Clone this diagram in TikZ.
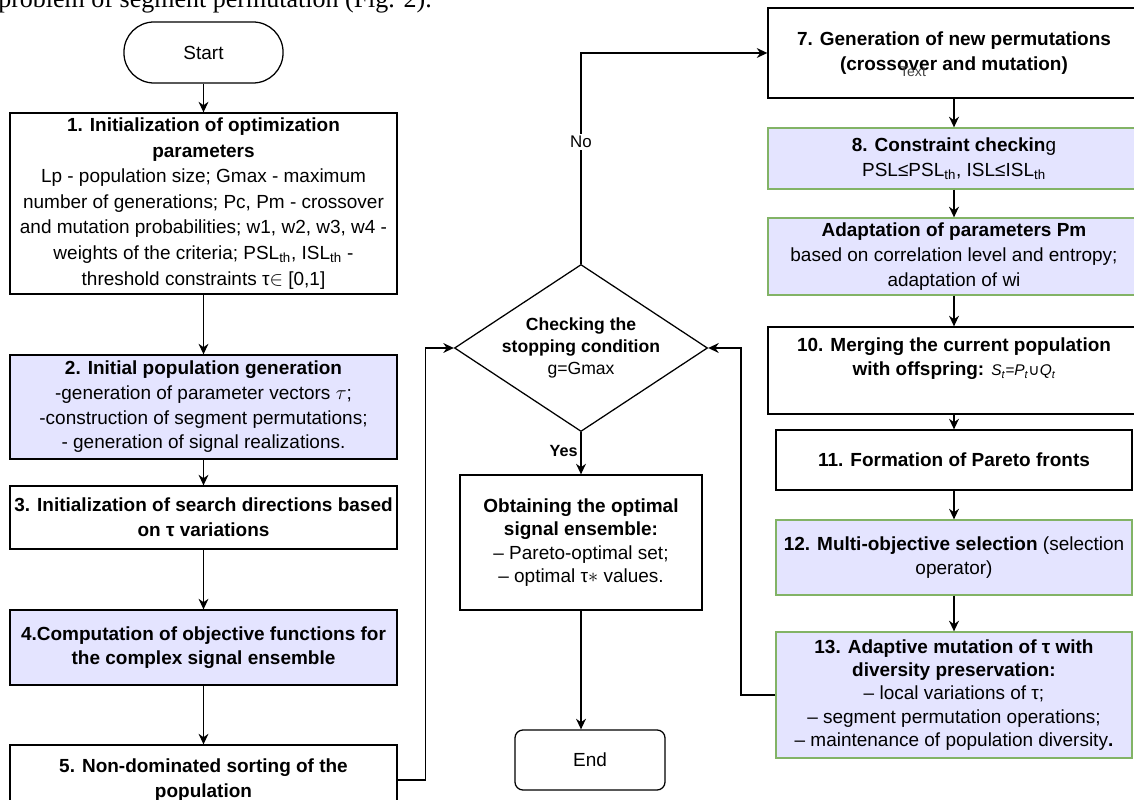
\documentclass[tikz,border=0pt]{standalone}
\usepackage{fontspec}
\setmainfont{Liberation Sans}
\newfontfamily\serifface{Liberation Serif}
\newfontfamily\dejavu{DejaVu Sans}
\usetikzlibrary{shapes.geometric, arrows.meta}
\definecolor{lavfill}{RGB}{228,228,255}
\definecolor{leafgreen}{RGB}{130,179,102}

\begin{document}
\begin{tikzpicture}[x=0.025cm, y=-0.025cm,
  proc/.style={draw, line width=0.9pt, fill=white, align=center, inner xsep=1pt, inner ysep=2pt, font=\fontsize{13.5}{17.5}\selectfont},
  procb/.style={proc, fill=lavfill},
  procg/.style={proc, fill=lavfill, draw=leafgreen},
  cond/.style={draw, diamond, aspect=1.5, line width=0.9pt, align=center, inner sep=0pt, font=\fontsize{12.5}{15.5}\selectfont},
  arr/.style={-{Stealth[length=7.5pt,width=7pt]}, line width=0.9pt},
  arrb/.style={arr, line width=1.4pt}]
 \useasboundingbox (0,0) rectangle (1134,800);
 \node[anchor=base west, inner sep=0pt, font=\serifface\fontsize{18.5}{21}\selectfont] (caption) at (-2,8) {problem of segment permutation (Fig. 2).};

 % left column
 \node[proc, rounded corners=0.75cm, minimum width=3.975cm, minimum height=1.525cm] (start) at (203.5,52.5) {Start};
 \node[proc, minimum width=9.675cm, minimum height=4.525cm, font=\fontsize{13.5}{18.2}\selectfont] (n1) at (203.5,203.5) {\textbf{1. Initialization of optimization}\\ \textbf{parameters}\\ Lp - population size; Gmax - maximum\\ number of generations; Pc, Pm - crossover\\ and mutation probabilities; w1, w2, w3, w4 -\\ weights of the criteria; PSL\textsubscript{th}, ISL\textsubscript{th} -\\ threshold constraints τ$\in$ [0,1]};
 \node[procb, minimum width=9.675cm, minimum height=2.6cm] (n2) at (203.5,407) {\textbf{2. Initial population generation}\\ -generation of parameter vectors $\tau$;\\ -construction of segment permutations;\\ - generation of signal realizations.};
 \node[proc, minimum width=9.675cm, minimum height=1.575cm] (n3) at (203.5,517.5) {\textbf{3. Initialization of search directions based}\\ \textbf{on τ variations}};
 \node[procb, minimum width=9.675cm, minimum height=1.875cm] (n4) at (203.5,647.5) {\textbf{4.Computation of objective functions for}\\ \textbf{the complex signal ensemble}};
 \node[proc, minimum width=9.675cm, minimum height=1.75cm] (n5) at (203.5,780) {\textbf{5. Non-dominated sorting of the}\\ \textbf{population}};

 % middle column
 \node[cond, minimum width=6.325cm, minimum height=4.175cm] (check) at (581,348) {\textbf{Checking the}\\ \textbf{stopping condition}\\ g=Gmax};
 \node[proc, minimum width=6.05cm, minimum height=3.375cm, font=\fontsize{13.5}{16.5}\selectfont] (opt) at (581,542.5) {\textbf{Obtaining the optimal}\\ \textbf{signal ensemble:}\\ – Pareto-optimal set;\\ – optimal τ$\ast$ values.};
 \node[proc, rounded corners=0.2cm, minimum width=3.75cm, minimum height=1.5cm] (fin) at (590,760) {End};

 % right column
 \node[proc, minimum width=9.3cm, minimum height=2.25cm] (n7) at (954,53) {\textbf{7. Generation of new permutations}\\ \textbf{(crossover and mutation)}};
 \node[inner sep=0pt, text=black!75, font=\fontsize{10}{12}\selectfont] (ovl) at (913,72) {Text};
 \node[procg, minimum width=9.3cm, minimum height=1.525cm] (n8) at (954,158.5) {\textbf{8. Constraint checkin}g\\ PSL≤PSL\textsubscript{th}, ISL≤ISL\textsubscript{th}};
 \node[procg, minimum width=9.3cm, minimum height=1.925cm] (n9) at (954,256.5) {\textbf{Adaptation of parameters Pm}\\ based on correlation level and entropy;\\ adaptation of wi};
 \node[proc, minimum width=9.3cm, minimum height=2.175cm] (n10) at (954,370.5) {\textbf{10. Merging the current population}\\ \textbf{with offspring:} {\fontsize{11}{13}\selectfont\itshape S\textsubscript{t}=P\textsubscript{t}{\dejavu\upshape ∪}Q\textsubscript{t}}\\[2pt] \mbox{}};
 \node[proc, minimum width=8.9cm, minimum height=1.5cm] (n11) at (954,460) {\textbf{11. Formation of Pareto fronts}};
 \node[procg, minimum width=8.9cm, minimum height=1.875cm] (n12) at (954,557.5) {\textbf{12. Multi-objective selection} (selection\\ operator)};
 \node[procg, minimum width=8.9cm, minimum height=3.15cm, font=\fontsize{13.5}{16.5}\selectfont] (n13) at (954,695) {\textbf{13. Adaptive mutation of τ with}\\ \textbf{diversity preservation:}\\ – local variations of τ;\\ – segment permutation operations;\\ – maintenance of population diversity\textbf{.}};

 % connectors
 \draw[arr] (start) -- (n1);
 \draw[arr] (n1) -- (n2);
 \draw[arr] (n2) -- (n3);
 \draw[arr] (n3) -- (n4);
 \draw[arr] (n4) -- (n5);
 \draw[arr] (n5.east) -- ++(28,0) |- (check.west);
 \draw[arr] (check.north) |- node[pos=0.29, fill=white, inner sep=1.5pt, font=\fontsize{12}{14}\selectfont] (nolbl) {No} (n7.west);
 \draw[arr] (check.south) -- node[pos=0.45, left, inner sep=2pt, font=\bfseries\fontsize{11.5}{13}\selectfont] (yeslbl) {Yes} (opt.north);
 \draw[arr] (opt.south) -- (opt.south |- fin.north);
 \draw[arrb] (n7) -- (n8);
 \draw[arrb] (n8) -- (n9);
 \draw[arr] (n9) -- (n10);
 \draw[arr] (n10) -- (n11);
 \draw[arr] (n11) -- (n12);
 \draw[arrb] (n12) -- (n13);
 \draw[arrb] (n13.west) -- ++(-34,0) |- (check.east);
\end{tikzpicture}
\end{document}
